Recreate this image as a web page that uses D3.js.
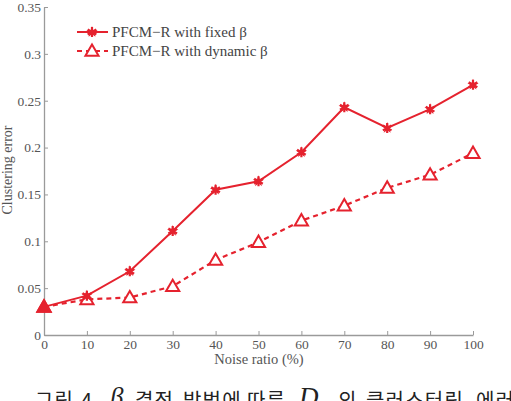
<!DOCTYPE html>
<html>
<head>
<meta charset="utf-8">
<script src="https://cdn.jsdelivr.net/npm/d3@7"></script>
<style>
  body { margin: 0; background: #fff; }
  svg { display: block; }
</style>
</head>
<body>
<div id="chart"></div>
<script>
// noise ratio (%) on x
var noise = [0, 10, 20, 30, 40, 50, 60, 70, 80, 90, 100];
// clustering error for the two methods
var fixedBeta = [0.030, 0.042, 0.068, 0.111, 0.155, 0.164, 0.195, 0.243, 0.221, 0.241, 0.267];
var dynamicBeta = [0.030, 0.038, 0.040, 0.052, 0.080, 0.099, 0.122, 0.138, 0.157, 0.171, 0.194];
var seriesNames = ["PFCM\u2212R with fixed \u03b2", "PFCM\u2212R with dynamic \u03b2"];
var xTicks = [0, 10, 20, 30, 40, 50, 60, 70, 80, 90, 100];
var yTicks = [0, 0.05, 0.1, 0.15, 0.2, 0.25, 0.3, 0.35];
// caption words (math symbols are italic)
var capWords = ["그림", "4.", "\u03b2", "결정", "방법에", "따른", "D", "의", "클러스터링", "에러"];
var capMath = [false, false, true, false, false, false, true, false, false, false];

var W = 511, H = 401;
var red = "#e5222e";
var serif = "'Liberation Serif', 'DejaVu Serif', serif";

var svg = d3.select("#chart").append("svg")
  .attr("width", W).attr("height", H);

var x = d3.scaleLinear().domain([0, 100]).range([44, 473]);
var y = d3.scaleLinear().domain([0, 0.35]).range([335, 7]);

// axes - matlab style, ticks pointing in
var gx = svg.append("g").attr("transform", "translate(0," + y(0) + ")")
  .call(d3.axisBottom(x).tickValues(xTicks).tickSizeInner(-4).tickSizeOuter(0).tickPadding(4));
var gy = svg.append("g").attr("transform", "translate(" + x(0) + ",0)")
  .call(d3.axisLeft(y).tickValues(yTicks).tickSizeInner(-4).tickSizeOuter(0).tickPadding(3)
    .tickFormat(function(d) { return d3.format("")(+d.toFixed(2)); }));

[gx, gy].forEach(function(g) {
  g.select(".domain").attr("stroke", "#9a9a9a").attr("stroke-width", 1.3);
  g.selectAll(".tick line").attr("stroke", "#9a9a9a");
  g.selectAll("text").attr("font-family", serif).attr("font-size", 13.5).attr("fill", "#555");
});

// axis titles
svg.append("text").attr("x", 259).attr("y", 364).attr("text-anchor", "middle")
  .attr("font-family", serif).attr("font-size", 14.5).attr("fill", "#555")
  .text("Noise ratio (%)");
svg.append("text").attr("transform", "translate(12,170) rotate(-90)").attr("text-anchor", "middle")
  .attr("font-family", serif).attr("font-size", 14).attr("fill", "#555")
  .text("Clustering error");

var line = d3.line().x(function(d, i) { return x(noise[i]); }).y(function(d) { return y(d); });

svg.append("path").datum(dynamicBeta).attr("d", line)
  .attr("fill", "none").attr("stroke", red).attr("stroke-width", 2.2)
  .attr("stroke-dasharray", "5,4");
svg.append("path").datum(fixedBeta).attr("d", line)
  .attr("fill", "none").attr("stroke", red).attr("stroke-width", 2);

var tri = d3.symbol().type(d3.symbolTriangle).size(75);
var star = d3.symbol().type(d3.symbolAsterisk).size(70);
var starFill = d3.symbol().type(d3.symbolStar).size(40);

function drawTri(g, cx, cy) {
  g.append("path").attr("d", tri).attr("transform", "translate(" + cx + "," + (cy + 1) + ")")
    .attr("fill", "#fff").attr("stroke", red).attr("stroke-width", 2);
}
function drawStar(g, cx, cy) {
  g.append("path").attr("d", star).attr("transform", "translate(" + cx + "," + cy + ")")
    .attr("fill", "none").attr("stroke", red).attr("stroke-width", 2.2);
  g.append("path").attr("d", starFill).attr("transform", "translate(" + cx + "," + cy + ")")
    .attr("fill", red);
}

var marks = svg.append("g");
dynamicBeta.forEach(function(v, i) { drawTri(marks, x(noise[i]), y(v)); });
// at 0 the markers overlap into a filled triangle
marks.append("path").attr("d", tri).attr("transform", "translate(" + x(0) + "," + (y(dynamicBeta[0]) + 1) + ")")
  .attr("fill", red).attr("stroke", red).attr("stroke-width", 2);
fixedBeta.forEach(function(v, i) { if (i > 0) drawStar(marks, x(noise[i]), y(v)); });

// legend
var leg = svg.append("g");
var rows = [32, 51];
leg.append("line").attr("x1", 77).attr("x2", 108).attr("y1", rows[0]).attr("y2", rows[0])
  .attr("stroke", red).attr("stroke-width", 2);
drawStar(leg, 92, rows[0]);
leg.append("line").attr("x1", 77).attr("x2", 108).attr("y1", rows[1]).attr("y2", rows[1])
  .attr("stroke", red).attr("stroke-width", 2.2).attr("stroke-dasharray", "5,4");
drawTri(leg, 92, rows[1]);
seriesNames.forEach(function(n, i) {
  leg.append("text").attr("x", 112).attr("y", rows[i] + 5)
    .attr("font-family", serif).attr("font-size", 15).attr("fill", "#444").text(n);
});

// caption, cut off at the bottom like the original
var capX = [35, 81, 110, 135, 183, 247, 299, 338, 366, 476];
var cap = svg.append("g");
capWords.forEach(function(w, i) {
  var t = cap.append("text").attr("x", capX[i]).attr("y", 408).attr("fill", "#222").text(w);
  if (capMath[i]) {
    t.attr("font-family", serif).attr("font-style", "italic").attr("font-size", 27).attr("y", 406);
  } else {
    t.attr("font-family", "'Noto Sans CJK KR', sans-serif").attr("font-size", 20)
      .attr("letter-spacing", 1.2);
  }
});
</script>
</body>
</html>
